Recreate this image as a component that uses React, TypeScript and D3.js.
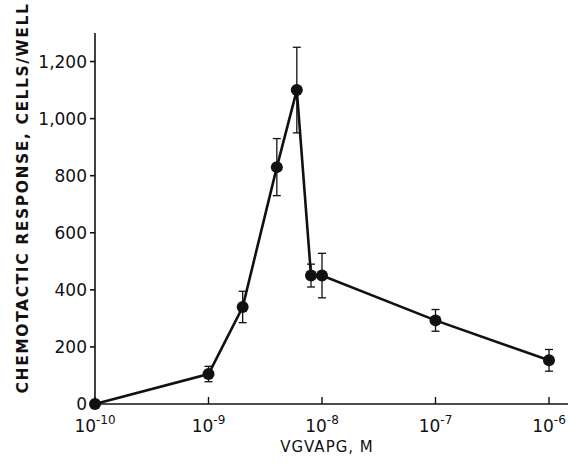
import { scaleLog, scaleLinear, line as d3_line } from "d3";

// concentration of VGVAPG (M) and response (cells/well) with SEM
const concentrations = [1e-10, 1e-9, 2e-9, 4e-9, 6e-9, 8e-9, 1e-8, 1e-7, 1e-6];
const responses = [0, 105, 340, 830, 1100, 450, 450, 293, 153];
const errors = [0, 27, 55, 100, 150, 40, 78, 38, 38];

const xTickExponents = [-10, -9, -8, -7, -6];
const yTicks = [0, 200, 400, 600, 800, 1000, 1200];

const W = 572;
const H = 466;
const margin = { top: 33, right: 4, bottom: 62, left: 95 };
const FONT = "'DejaVu Sans', 'Liberation Sans', sans-serif";

export default function App() {
  const xScale = scaleLog().domain([1e-10, 1e-6]).range([margin.left, 549]);
  const yScale = scaleLinear().domain([0, 1300]).range([H - margin.bottom, margin.top]);

  const pts = concentrations.map((c, i) => ({ c, v: responses[i], e: errors[i] }));
  const linePath = d3_line<typeof pts[number]>()
    .x((d) => xScale(d.c))
    .y((d) => yScale(d.v))(pts);

  const y0 = yScale(0);
  const fmt = (v: number) => (v >= 1000 ? `${Math.floor(v / 1000)},${String(v % 1000).padStart(3, "0")}` : String(v));

  return (
    <svg
      width={W}
      height={H}
      style={{ position: "absolute", top: 0, left: 0, background: "#fff" }}
      fontFamily={FONT}
    >
      {/* ejes */}
      <line x1={margin.left} x2={margin.left} y1={margin.top} y2={y0} stroke="#111" strokeWidth={1.6} />
      <line x1={margin.left} x2={W - margin.right} y1={y0} y2={y0} stroke="#111" strokeWidth={1.6} />

      {/* eje Y */}
      {yTicks.map((t) => (
        <g key={t}>
          <line x1={margin.left - 5} x2={margin.left} y1={yScale(t)} y2={yScale(t)} stroke="#111" strokeWidth={1.6} />
          <text x={margin.left - 8} y={yScale(t)} dy="0.36em" textAnchor="end" fontSize={17} fill="#111">
            {fmt(t)}
          </text>
        </g>
      ))}

      {/* eje X */}
      {xTickExponents.map((p) => {
        const x = xScale(Math.pow(10, p));
        return (
          <g key={p}>
            <line x1={x} x2={x} y1={y0} y2={y0 - 7} stroke="#111" strokeWidth={1.4} />
            <text x={x} y={y0 + 28} textAnchor="middle" fontSize={17} fill="#111">
              10<tspan dy={-8} fontSize={12}>{`-${-p}`}</tspan>
            </text>
          </g>
        );
      })}

      {/* títulos */}
      <text x={327} y={452} textAnchor="middle" fontSize={15} letterSpacing={1} fill="#111">
        VGVAPG, M
      </text>
      <text
        transform={`translate(28,${198}) rotate(-90)`}
        textAnchor="middle"
        fontSize={15.5}
        fontWeight="bold"
        letterSpacing={1.6}
        fill="#111"
      >
        CHEMOTACTIC RESPONSE, CELLS/WELL
      </text>

      {/* línea */}
      {linePath && <path d={linePath} fill="none" stroke="#111" strokeWidth={2.6} />}

      {/* barras de error */}
      {pts.filter((d) => d.e > 0).map((d, i) => {
        const x = xScale(d.c);
        return (
          <g key={i} stroke="#111" strokeWidth={1.3}>
            <line x1={x} x2={x} y1={yScale(d.v + d.e)} y2={yScale(d.v - d.e)} />
            <line x1={x - 4} x2={x + 4} y1={yScale(d.v + d.e)} y2={yScale(d.v + d.e)} />
            <line x1={x - 4} x2={x + 4} y1={yScale(d.v - d.e)} y2={yScale(d.v - d.e)} />
          </g>
        );
      })}

      {/* puntos */}
      {pts.map((d, i) => (
        <circle key={i} cx={xScale(d.c)} cy={yScale(d.v)} r={6} fill="#111" />
      ))}
    </svg>
  );
}
